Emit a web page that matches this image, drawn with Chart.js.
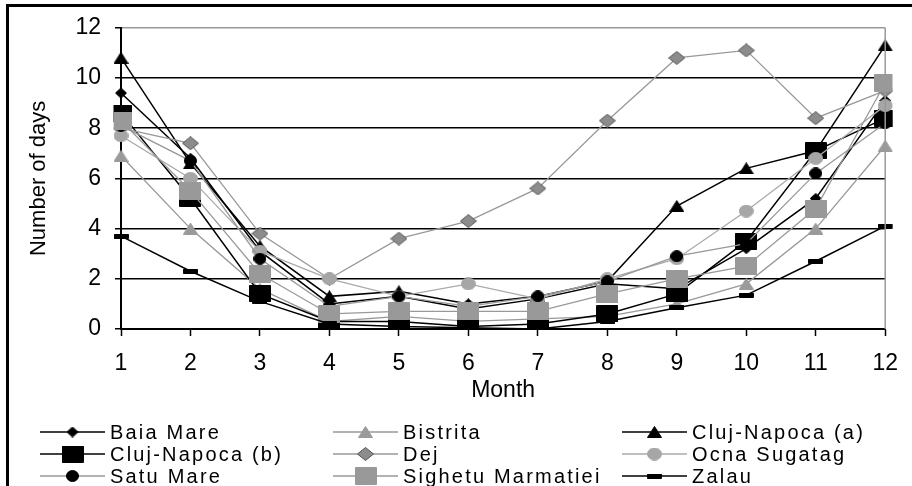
<!DOCTYPE html>
<html>
<head>
<meta charset="utf-8">
<script src="https://cdn.jsdelivr.net/npm/chart.js@4/dist/chart.umd.min.js"></script>
<style>
  html, body { margin: 0; padding: 0; background: #fff; }
  #wrap { width: 912px; height: 486px; position: relative; }
</style>
</head>
<body>
<div id="wrap"><canvas id="chart" width="912" height="486"></canvas></div>
<script>
const months = ['1','2','3','4','5','6','7','8','9','10','11','12'];

const baiaMare    = [9.4, 6.8, 3.1, 1.0, 1.3, 0.8, 1.2, 1.8, 1.6, 3.2, 5.2, 9.1];
const bistrita    = [6.9, 4.0, 1.6, 0.3, 0.5, 0.3, 0.4, 0.5, 1.0, 1.8, 4.0, 7.3];
const clujA       = [10.8, 6.6, 3.3, 1.3, 1.5, 1.0, 1.3, 1.9, 4.9, 6.4, 7.1, 11.3];
const clujB       = [8.6, 5.2, 1.4, 0.3, 0.3, 0.1, 0.2, 0.6, 1.4, 3.5, 7.1, 8.4];
const dej         = [8.0, 7.4, 3.8, 2.0, 3.6, 4.3, 5.6, 8.3, 10.8, 11.1, 8.4, 9.5];
const ocnaSugatag = [7.7, 6.0, 3.1, 2.0, 1.3, 1.8, 1.2, 2.0, 2.8, 4.7, 6.8, 8.9];
const satuMare    = [8.1, 6.7, 2.8, 0.9, 1.3, 0.9, 1.3, 1.9, 2.9, 3.4, 6.2, 8.2];
const sighetu     = [8.3, 5.5, 2.2, 0.6, 0.7, 0.7, 0.7, 1.4, 2.0, 2.5, 4.8, 9.8];
const zalau       = [3.7, 2.3, 1.1, 0.2, 0.1, 0.05, 0.0, 0.3, 0.85, 1.35, 2.7, 4.1];

const yTicks = [0, 2, 4, 6, 8, 10, 12];

const FONT = '"Liberation Sans", Arial, sans-serif';

// kleine Canvas-Marker (Bild ist breiter als hoch gestreckt)
function marker(shape, w, h, fill, stroke) {
  const c = document.createElement('canvas');
  c.width = w; c.height = h;
  const g = c.getContext('2d');
  g.fillStyle = fill;
  g.strokeStyle = stroke || fill;
  g.lineWidth = 1;
  g.beginPath();
  if (shape === 'square' || shape === 'dash') {
    g.rect(0.5, 0.5, w - 1, h - 1);
  } else if (shape === 'triangle') {
    g.moveTo(w / 2, 0.5); g.lineTo(w - 0.5, h - 0.5); g.lineTo(0.5, h - 0.5); g.closePath();
  } else if (shape === 'diamond') {
    g.moveTo(w / 2, 0.5); g.lineTo(w - 0.5, h / 2); g.lineTo(w / 2, h - 0.5); g.lineTo(0.5, h / 2); g.closePath();
  } else {
    g.ellipse(w / 2, h / 2, w / 2 - 0.5, h / 2 - 0.5, 0, 0, 2 * Math.PI);
  }
  g.fill(); g.stroke();
  return c;
}

const BLACK = '#000';
const GRAY = '#999';

const series = [
  { label: 'Baia Mare', data: baiaMare, color: BLACK, width: 1.5, pt: marker('diamond', 12, 11, BLACK) },
  { label: 'Bistrita', data: bistrita, color: GRAY, width: 1.3, pt: marker('triangle', 15, 12, '#9a9a9a') },
  { label: 'Cluj-Napoca (a)', data: clujA, color: BLACK, width: 1.5, pt: marker('triangle', 15, 12, BLACK) },
  { label: 'Cluj-Napoca (b)', data: clujB, color: BLACK, width: 1.5, pt: marker('square', 22, 17, BLACK) },
  { label: 'Dej', data: dej, color: GRAY, width: 1.3, pt: marker('diamond', 17, 14, '#8c8c8c', '#555') },
  { label: 'Ocna Sugatag', data: ocnaSugatag, color: '#aaa', width: 1.3, pt: marker('circle', 15, 13, '#a6a6a6') },
  { label: 'Satu Mare', data: satuMare, color: GRAY, width: 1.3, pt: marker('circle', 13, 12, BLACK) },
  { label: 'Sighetu Marmatiei', data: sighetu, color: GRAY, width: 1.3, pt: marker('square', 22, 18, '#999') },
  { label: 'Zalau', data: zalau, color: BLACK, width: 1.5, pt: marker('dash', 15, 5, BLACK) }
];

// Rahmen + Hintergrund
const framePlugin = {
  id: 'frame',
  beforeDraw(chart) {
    const c = chart.ctx;
    c.save();
    c.fillStyle = '#fff';
    c.fillRect(0, 0, chart.width, chart.height);
    c.fillStyle = '#000';
    c.fillRect(6, 4, chart.width - 6, 3);
    c.fillRect(6, 4, 3, chart.height - 4);
    c.restore();
  },
  afterDatasetsDraw(chart) {
    const a = chart.chartArea;
    const c = chart.ctx;
    c.save();
    c.strokeStyle = '#999';
    c.lineWidth = 1.5;
    c.beginPath();
    c.moveTo(a.right, a.top);
    c.lineTo(a.right, a.bottom);
    c.stroke();
    c.restore();
  }
};

// Legende in drei Spalten
const legendPlugin = {
  id: 'gridLegend',
  afterDraw(chart) {
    const c = chart.ctx;
    const colX = [40, 333, 622];
    const rowY = [432, 454, 476];
    const lineLen = 65;
    c.save();
    c.font = '20px ' + FONT;
    c.letterSpacing = '2.2px';
    c.textBaseline = 'middle';
    c.fillStyle = '#000';
    chart.data.datasets.forEach((ds, i) => {
      const x = colX[i % 3];
      const y = rowY[Math.floor(i / 3)];
      c.strokeStyle = ds.borderColor;
      c.lineWidth = ds.borderWidth;
      c.beginPath();
      c.moveTo(x, y);
      c.lineTo(x + lineLen, y);
      c.stroke();
      const img = ds.pointStyle;
      c.drawImage(img, x + lineLen / 2 - img.width / 2, y - img.height / 2);
      c.fillText(ds.label, x + lineLen + 5, y + 1);
    });
    c.restore();
  }
};

new Chart(document.getElementById('chart'), {
  type: 'line',
  data: {
    labels: months,
    datasets: series.map((s, i) => ({
      label: s.label,
      data: s.data,
      borderColor: s.color,
      borderWidth: s.width,
      backgroundColor: s.color,
      pointStyle: s.pt,
      pointRadius: 6,
      tension: 0,
      fill: false,
      order: series.length - i
    }))
  },
  options: {
    responsive: false,
    animation: false,
    events: [],
    layout: { padding: { left: 26, top: 23, right: 19, bottom: 82 } },
    plugins: { legend: { display: false }, tooltip: { enabled: false } },
    scales: {
      x: {
        offset: false,
        afterFit: (s) => { s.height = 75; },
        grid: { drawOnChartArea: false, drawTicks: true, tickLength: 7, tickColor: '#000', tickWidth: 1.5 },
        border: { color: '#000', width: 2 },
        ticks: { color: '#000', font: { family: FONT, size: 23 }, padding: 14, maxRotation: 0, autoSkip: false },
        title: { display: true, text: 'Month', color: '#000', font: { family: FONT, size: 23 }, padding: { top: 0, bottom: 0 } }
      },
      y: {
        min: 0,
        max: 12,
        afterFit: (s) => { s.width = 95; },
        afterBuildTicks: (s) => { s.ticks = yTicks.map(v => ({ value: v })); },
        grid: {
          color: (ctx) => ctx.tick && ctx.tick.value === 12 ? '#999' : '#000',
          lineWidth: 1.5,
          tickLength: 6,
          tickColor: '#000'
        },
        border: { color: '#000', width: 2 },
        ticks: { color: '#000', font: { family: FONT, size: 23 }, padding: 14 },
        title: { display: true, text: 'Number of days', color: '#000', font: { family: FONT, size: 22 }, padding: 0 }
      }
    }
  },
  plugins: [framePlugin, legendPlugin]
});
</script>
</body>
</html>
